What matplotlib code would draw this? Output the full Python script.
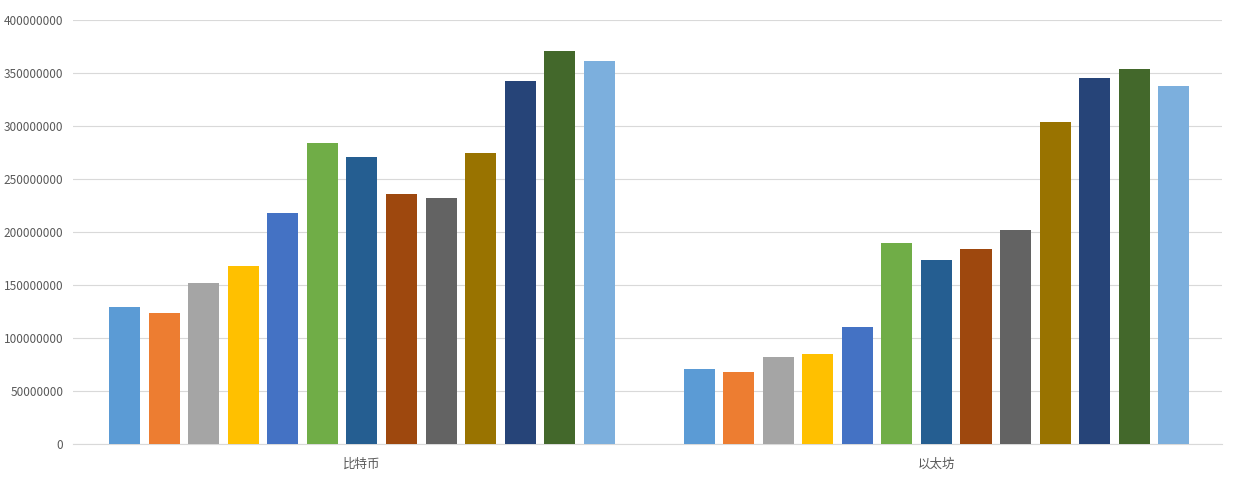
import matplotlib
matplotlib.use("Agg")
import matplotlib.pyplot as plt
import numpy as np

plt.rcParams['font.family'] = ['Noto Sans CJK SC', 'DejaVu Sans']

# categories and series values
categories = ['比特币', '以太坊']
bitcoin = [129e6, 123.6e6, 152e6, 168e6, 218e6, 284e6, 271e6, 236e6, 232e6, 274.5e6, 342.5e6, 371e6, 361.5e6]
ethereum = [71e6, 68e6, 82e6, 85e6, 110.5e6, 189.6e6, 173.6e6, 184e6, 202e6, 304e6, 345.5e6, 354e6, 338e6]
colors = ['#5B9BD5', '#ED7D31', '#A5A5A5', '#FFC000', '#4472C4', '#70AD47',
          '#255E91', '#9E480E', '#636363', '#997300', '#264478', '#43682B', '#7CAFDD']
yticks = [0, 50000000, 100000000, 150000000, 200000000, 250000000,
          300000000, 350000000, 400000000]

fig = plt.figure(figsize=(12.35, 4.8), dpi=100)
ax = fig.add_axes([73 / 1235, 1 - 444 / 480, (1222 - 73) / 1235, (444 - 20) / 480])

n = len(colors)
step = 0.0688
width = 0.054
x = np.arange(len(categories))
for i in range(n):
    offs = (i - (n - 1) / 2) * step
    ax.bar(x + offs, [bitcoin[i], ethereum[i]], width=width, color=colors[i], zorder=3)

ax.set_xlim(-0.503, 1.497)
ax.set_ylim(0, 400000000)
ax.set_yticks(yticks)
ax.set_yticklabels([str(v) for v in yticks])
ax.set_xticks(x)
ax.set_xticklabels(categories)
ax.grid(axis='y', color='#D9D9D9', linewidth=0.8, zorder=0)
for s in ['top', 'right', 'left']:
    ax.spines[s].set_visible(False)
ax.spines['bottom'].set_color('#D9D9D9')
ax.tick_params(axis='both', length=0, labelsize=8.5, colors='#595959', pad=7)
ax.tick_params(axis='x', pad=10, labelsize=9)

fig.savefig('out.png', dpi=100)
